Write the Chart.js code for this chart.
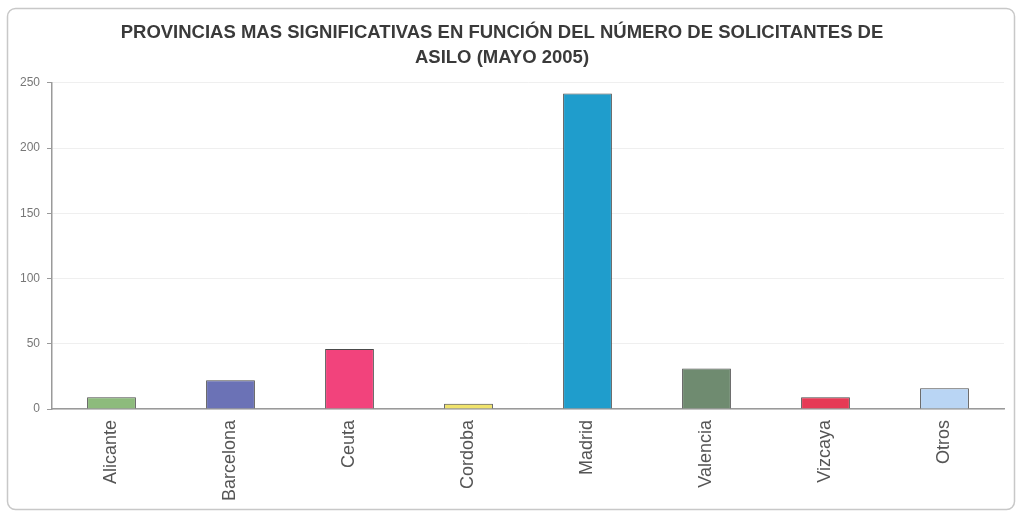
<!DOCTYPE html>
<html>
<head>
<meta charset="utf-8">
<script src="https://cdn.jsdelivr.net/npm/chart.js@4/dist/chart.umd.min.js"></script>
<style>
  html, body { margin: 0; padding: 0; background: #fff; }
  #wrap { width: 1022px; height: 513px; }
</style>
</head>
<body>
<div id="wrap"><canvas id="asiloChart" width="1022" height="513"></canvas></div>
<script>
const provincias = ['Alicante', 'Barcelona', 'Ceuta', 'Cordoba', 'Madrid', 'Valencia', 'Vizcaya', 'Otros'];
const solicitantes = [9, 22, 46, 4, 242, 31, 9, 16];
const barColors = ['#8dbb7c', '#6b72b6', '#f2437c', '#f0e36c', '#1f9dcc', '#6f8b70', '#e63a55', '#b9d5f4'];
const titleLines = ['PROVINCIAS MAS SIGNIFICATIVAS EN FUNCIÓN DEL NÚMERO DE SOLICITANTES DE', 'ASILO (MAYO 2005)'];

// marco redondeado alrededor del gráfico
const framePlugin = {
  id: 'frame',
  beforeDraw(chart) {
    const ctx = chart.ctx;
    ctx.save();
    ctx.fillStyle = '#fff';
    ctx.fillRect(0, 0, chart.width, chart.height);
    ctx.strokeStyle = '#c8c8c8';
    ctx.lineWidth = 1.5;
    ctx.beginPath();
    ctx.roundRect(7.5, 8.5, 1007, 501, 8);
    ctx.stroke();
    ctx.restore();
  },
};

new Chart(document.getElementById('asiloChart'), {
  type: 'bar',
  data: {
    labels: provincias,
    datasets: [{
      data: solicitantes,
      backgroundColor: barColors,
      borderColor: '#4a4a4a',
      borderWidth: 1,
      barPercentage: 0.41,
      categoryPercentage: 1,
    }],
  },
  options: {
    responsive: false,
    animation: false,
    layout: { padding: { left: 0, right: 18, top: 0, bottom: 4 } },
    plugins: {
      legend: { display: false },
      tooltip: { enabled: false },
      title: {
        display: true,
        text: titleLines,
        color: '#3a3a3a',
        font: { family: 'Liberation Sans, Arial, sans-serif', size: 18.5, weight: 'bold', lineHeight: 1.35 },
        padding: { top: 20, bottom: 13 },
      },
    },
    scales: {
      x: {
        grid: { display: false },
        border: { color: '#9a9a9a', width: 1.5 },
        ticks: {
          color: '#555',
          font: { family: 'Liberation Sans, Arial, sans-serif', size: 18 },
          minRotation: 90,
          maxRotation: 90,
          padding: 3,
        },
        afterFit(scale) { scale.height = 100; },
      },
      y: {
        min: 0,
        max: 250,
        ticks: {
          stepSize: 50,
          color: '#777',
          font: { family: 'Liberation Sans, Arial, sans-serif', size: 12 },
          padding: 7,
        },
        grid: {
          color: '#efefef',
          tickColor: '#9a9a9a',
          tickLength: 5,
          drawTicks: true,
        },
        border: { color: '#9a9a9a', width: 1.5, dash: [] },
        afterFit(scale) { scale.width = 52; },
      },
    },
  },
  plugins: [framePlugin],
});
</script>
</body>
</html>
